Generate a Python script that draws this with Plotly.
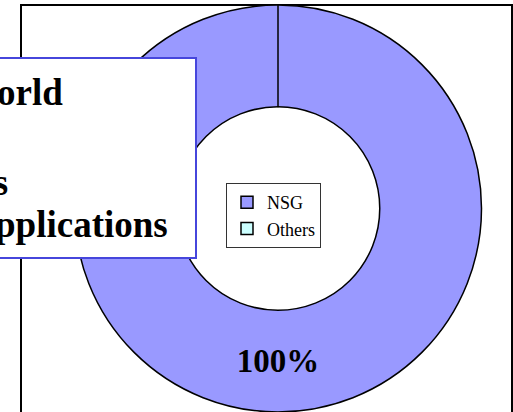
import plotly.graph_objects as go

labels = ["NSG", "Others"]
values = [100, 0]
slice_text = ["100%", ""]
colors = ["#9999FF", "#CCFFFF"]
title_lines = ["NSG's Share of the World", "of Glass Substrates", "for Display Applications"]

W, H = 513, 412
cx, cy, r = 278, 208.5, 203.5

fig = go.Figure()
fig.add_trace(go.Pie(
    labels=labels, values=values, text=slice_text, textinfo="text",
    textposition="inside", insidetextorientation="horizontal",
    hole=0.5, sort=False, direction="clockwise", rotation=0,
    marker=dict(colors=colors, line=dict(color="black", width=1.5)),
    insidetextfont=dict(family="Times New Roman, Liberation Serif, serif", size=33,
                        color="black", weight="bold"),
    domain=dict(x=[(cx - r) / W, (cx + r) / W], y=[(H - cy - r) / H, (H - cy + r) / H]),
    hoverinfo="label+percent",
))

# outer frame
fig.add_shape(type="rect", xref="paper", yref="paper",
              x0=21 / W, x1=512 / W, y0=-0.05, y1=1 - 5 / H,
              line=dict(color="black", width=2), fillcolor="rgba(0,0,0,0)", layer="below")
# title box
fig.add_shape(type="rect", xref="paper", yref="paper",
              x0=-0.2, x1=196 / W, y0=1 - 258 / H, y1=1 - 58 / H,
              line=dict(color="#4646DC", width=2), fillcolor="white", layer="above")

title_right = [65, 10, 170]
title_center_y = [92.5, 182.5, 224.5]
for t, xr, yc in zip(title_lines, title_right, title_center_y):
    fig.add_annotation(text=t, xref="paper", yref="paper", x=xr / W, y=1 - yc / H,
                       xanchor="right", yanchor="middle", showarrow=False,
                       font=dict(family="Times New Roman, Liberation Serif, serif", size=37,
                                 color="black", weight="bold"))

fig.update_layout(
    width=W, height=H, margin=dict(l=0, r=0, t=0, b=0),
    paper_bgcolor="white", plot_bgcolor="white",
    showlegend=True,
    legend=dict(x=226 / W, y=1 - 183 / H, xanchor="left", yanchor="top",
                bgcolor="white", bordercolor="#333333", borderwidth=1,
                font=dict(family="Times New Roman, Liberation Serif, serif", size=18, color="black"),
                traceorder="normal"),
)

fig.write_html("out.html", config={"displayModeBar": False},
               post_script="document.body.style.margin='0px';")
